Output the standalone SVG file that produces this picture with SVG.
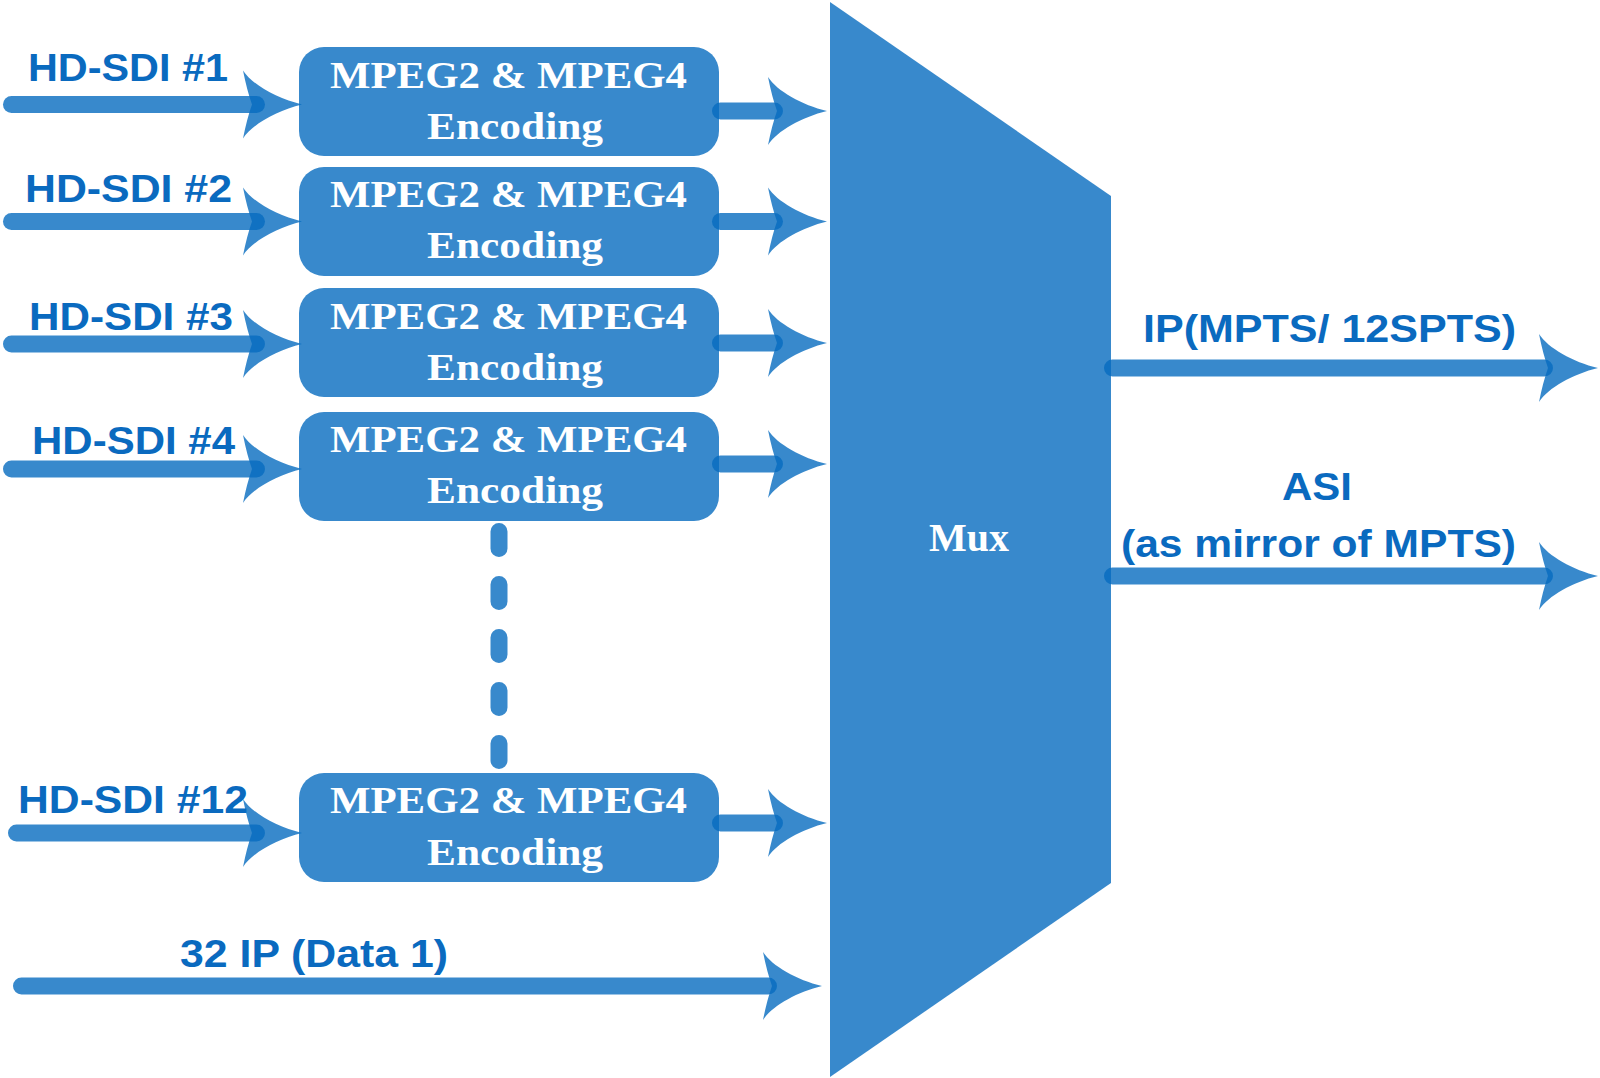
<svg xmlns="http://www.w3.org/2000/svg" xmlns:xlink="http://www.w3.org/1999/xlink" width="1600" height="1078" viewBox="0 0 1600 1078">
  <style>
    .shape { fill: #066BBF; fill-opacity: 0.8; }
    .line { stroke: #066BBF; stroke-opacity: 0.8; stroke-width: 17; stroke-linecap: round; fill: none; }
    .dash { stroke: #066BBF; stroke-opacity: 0.8; stroke-width: 17; stroke-linecap: round; stroke-dasharray: 17 36; fill: none; }
    .lbl { font-family: "Liberation Sans", Arial, sans-serif; font-weight: bold; font-size: 38px; fill: #0A6ABF; }
    .box-t { font-family: "Liberation Serif", "Times New Roman", serif; font-weight: bold; font-size: 38px; fill: #FFFFFF; }
    .mux-t { font-family: "Liberation Serif", "Times New Roman", serif; font-weight: bold; font-size: 40px; fill: #FFFFFF; }
  </style>
  <defs>
    <path id="ah" class="shape" d="M0,0 C-25,-6 -50,-20 -59,-34 Q-55,-14 -50,0 Q-55,14 -59,34 C-50,20 -25,6 0,0 Z"/>
  </defs>
  <rect width="1600" height="1078" fill="#FFFFFF"/>

  <g id="mux">
    <polygon class="shape" points="830,2 1111,196 1111,883 830,1077"/>
    <text class="mux-t" x="929" y="551" textLength="80" lengthAdjust="spacingAndGlyphs">Mux</text>
  </g>

  <g id="enc1">
    <rect class="shape" x="299" y="47" width="420" height="109" rx="25" ry="25"/>
    <text class="box-t" x="330" y="88" textLength="357" lengthAdjust="spacingAndGlyphs">MPEG2 &amp; MPEG4</text>
    <text class="box-t" x="427" y="139" textLength="176" lengthAdjust="spacingAndGlyphs">Encoding</text>
  </g>
  <g id="enc2">
    <rect class="shape" x="299" y="167" width="420" height="109" rx="25" ry="25"/>
    <text class="box-t" x="330" y="207" textLength="357" lengthAdjust="spacingAndGlyphs">MPEG2 &amp; MPEG4</text>
    <text class="box-t" x="427" y="258" textLength="176" lengthAdjust="spacingAndGlyphs">Encoding</text>
  </g>
  <g id="enc3">
    <rect class="shape" x="299" y="288" width="420" height="109" rx="25" ry="25"/>
    <text class="box-t" x="330" y="329" textLength="357" lengthAdjust="spacingAndGlyphs">MPEG2 &amp; MPEG4</text>
    <text class="box-t" x="427" y="380" textLength="176" lengthAdjust="spacingAndGlyphs">Encoding</text>
  </g>
  <g id="enc4">
    <rect class="shape" x="299" y="412" width="420" height="109" rx="25" ry="25"/>
    <text class="box-t" x="330" y="452" textLength="357" lengthAdjust="spacingAndGlyphs">MPEG2 &amp; MPEG4</text>
    <text class="box-t" x="427" y="503" textLength="176" lengthAdjust="spacingAndGlyphs">Encoding</text>
  </g>
  <g id="enc12">
    <rect class="shape" x="299" y="773" width="420" height="109" rx="25" ry="25"/>
    <text class="box-t" x="330" y="813" textLength="357" lengthAdjust="spacingAndGlyphs">MPEG2 &amp; MPEG4</text>
    <text class="box-t" x="427" y="865" textLength="176" lengthAdjust="spacingAndGlyphs">Encoding</text>
  </g>

  <g id="labels">
    <text class="lbl" x="28" y="81" textLength="200" lengthAdjust="spacingAndGlyphs">HD-SDI #1</text>
    <text class="lbl" x="25" y="202" textLength="207" lengthAdjust="spacingAndGlyphs">HD-SDI #2</text>
    <text class="lbl" x="29" y="330" textLength="204" lengthAdjust="spacingAndGlyphs">HD-SDI #3</text>
    <text class="lbl" x="32" y="454" textLength="203" lengthAdjust="spacingAndGlyphs">HD-SDI #4</text>
    <text class="lbl" x="18" y="813" textLength="230" lengthAdjust="spacingAndGlyphs">HD-SDI #12</text>
    <text class="lbl" x="180" y="967" textLength="268" lengthAdjust="spacingAndGlyphs">32 IP (Data 1)</text>
    <text class="lbl" x="1143" y="342" textLength="373" lengthAdjust="spacingAndGlyphs">IP(MPTS/ 12SPTS)</text>
    <text class="lbl" x="1282" y="500" textLength="70" lengthAdjust="spacingAndGlyphs">ASI</text>
    <text class="lbl" x="1121" y="557" textLength="395" lengthAdjust="spacingAndGlyphs">(as mirror of MPTS)</text>
  </g>

  <g id="connectors">
    <!-- inputs -->
    <line class="line" x1="11.5" y1="104.5" x2="256.5" y2="104.5"/>
    <use xlink:href="#ah" href="#ah" transform="translate(302,104.5)"/>
    <line class="line" x1="11.5" y1="221.5" x2="256.5" y2="221.5"/>
    <use xlink:href="#ah" href="#ah" transform="translate(302,221.5)"/>
    <line class="line" x1="11.5" y1="344" x2="256.5" y2="344"/>
    <use xlink:href="#ah" href="#ah" transform="translate(302,344)"/>
    <line class="line" x1="11.5" y1="469" x2="256.5" y2="469"/>
    <use xlink:href="#ah" href="#ah" transform="translate(302,469)"/>
    <line class="line" x1="16.5" y1="833" x2="256.5" y2="833"/>
    <use xlink:href="#ah" href="#ah" transform="translate(302,833)"/>
    <line class="line" x1="21.5" y1="986" x2="768.5" y2="986"/>
    <use xlink:href="#ah" href="#ah" transform="translate(822,986)"/>
    <!-- encoder outputs -->
    <line class="line" x1="720.5" y1="111" x2="774.5" y2="111"/>
    <use xlink:href="#ah" href="#ah" transform="translate(827,111)"/>
    <line class="line" x1="720.5" y1="221.5" x2="774.5" y2="221.5"/>
    <use xlink:href="#ah" href="#ah" transform="translate(827,221.5)"/>
    <line class="line" x1="720.5" y1="343" x2="774.5" y2="343"/>
    <use xlink:href="#ah" href="#ah" transform="translate(827,343)"/>
    <line class="line" x1="720.5" y1="464" x2="774.5" y2="464"/>
    <use xlink:href="#ah" href="#ah" transform="translate(827,464)"/>
    <line class="line" x1="720.5" y1="823" x2="774.5" y2="823"/>
    <use xlink:href="#ah" href="#ah" transform="translate(827,823)"/>
    <!-- mux outputs -->
    <line class="line" x1="1112.5" y1="368" x2="1544.5" y2="368"/>
    <use xlink:href="#ah" href="#ah" transform="translate(1598,368)"/>
    <line class="line" x1="1112.5" y1="576" x2="1544.5" y2="576"/>
    <use xlink:href="#ah" href="#ah" transform="translate(1598,576)"/>
    <!-- continuation dots -->
    <line class="dash" x1="499" y1="531.5" x2="499" y2="760.5"/>
  </g>
</svg>
